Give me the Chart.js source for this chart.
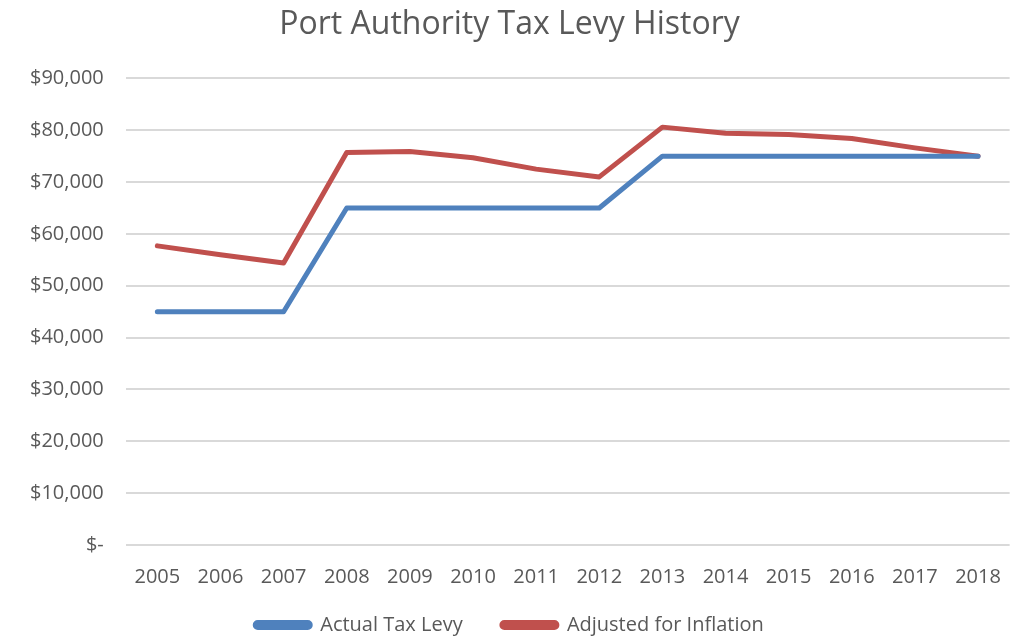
<!DOCTYPE html>
<html>
<head>
<meta charset="utf-8">
<script src="https://cdn.jsdelivr.net/npm/chart.js@4"></script>
<style>
  html, body { margin: 0; padding: 0; background: #fff; }
  #wrap { width: 1013px; height: 638px; }
</style>
</head>
<body>
<div id="wrap"><canvas id="chart"></canvas></div>
<script>
// ---- data ------------------------------------------------------------------
const years = ["2005", "2006", "2007", "2008", "2009", "2010", "2011", "2012", "2013", "2014", "2015", "2016", "2017", "2018"];
const actualLevy = [45000, 45000, 45000, 65000, 65000, 65000, 65000, 65000, 75000, 75000, 75000, 75000, 75000, 75000];
const adjustedLevy = [57700, 56000, 54400, 75700, 75900, 74700, 72500, 71000, 80600, 79400, 79200, 78400, 76600, 75000];

const COLORS = { blue: "#4f81bd", red: "#c0504d", text: "#595959", grid: "#d9d9d9" };
const FONT = "'Open Sans', 'Liberation Sans', sans-serif";

function fmtUsd(v) {
  if (v === 0) return "$-";
  return "$" + v.toLocaleString("en-US");
}

// default legend items, with a wider gap after the first one
function legendItems(chart) {
  const items = Chart.defaults.plugins.legend.labels.generateLabels(chart);
  return items.map((it, i) => (i < items.length - 1 ? { ...it, text: it.text + "\u2003 " } : it));
}

new Chart(document.getElementById("chart"), {
  type: "line",
  data: {
    labels: years,
    datasets: [
      { label: "Actual Tax Levy", data: actualLevy, borderColor: COLORS.blue, backgroundColor: COLORS.blue,
        borderWidth: 5, pointRadius: 0, tension: 0, borderCapStyle: "round", borderJoinStyle: "round" },
      { label: "Adjusted for Inflation", data: adjustedLevy, borderColor: COLORS.red, backgroundColor: COLORS.red,
        borderWidth: 5, pointRadius: 0, tension: 0, borderCapStyle: "round", borderJoinStyle: "round" },
    ],
  },
  options: {
    responsive: true, maintainAspectRatio: false, animation: false,
    layout: { padding: { left: 8, right: 2, top: 6, bottom: -7 } },
    plugins: {
      title: { display: true, text: "Port Authority Tax Levy History", color: COLORS.text,
        font: { family: FONT, size: 32, weight: "normal" }, padding: { top: 0, bottom: 34 } },
      legend: { position: "bottom", labels: { color: COLORS.text, boxWidth: 55, boxHeight: 5, useBorderRadius: true,
        borderRadius: 2.5, padding: 14, font: { family: FONT, size: 20 }, generateLabels: legendItems } },
      tooltip: { enabled: false },
    },
    scales: {
      x: { offset: true, grid: { display: false }, border: { display: false },
        ticks: { color: COLORS.text, font: { family: FONT, size: 20 }, padding: 12 } },
      y: { min: 0, max: 90000, grid: { color: COLORS.grid, lineWidth: 2, drawTicks: false }, border: { display: false },
        ticks: { stepSize: 10000, color: COLORS.text, padding: 22, font: { family: FONT, size: 20 }, callback: (v) => fmtUsd(v) } },
    },
  },
});
</script>
</body>
</html>
